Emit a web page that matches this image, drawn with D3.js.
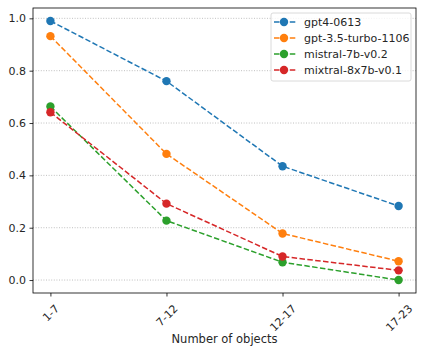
<!DOCTYPE html>
<html>
<head>
<meta charset="utf-8">
<script src="https://cdn.jsdelivr.net/npm/d3@7"></script>
<style>
  body { margin: 0; background: #fff; }
  text { font-family: "DejaVu Sans", sans-serif; fill: #262626; }
</style>
</head>
<body>
<div id="chart"></div>
<script>
// data
var categories = ["1-7", "7-12", "12-17", "17-23"];
var seriesNames = ["gpt4-0613", "gpt-3.5-turbo-1106", "mistral-7b-v0.2", "mixtral-8x7b-v0.1"];
var gpt4 = [0.99, 0.76, 0.435, 0.283];
var gpt35 = [0.932, 0.482, 0.178, 0.072];
var mistral = [0.663, 0.227, 0.068, 0.0];
var mixtral = [0.641, 0.292, 0.09, 0.037];
var yTicks = [0.0, 0.2, 0.4, 0.6, 0.8, 1.0];
var colors = ["#1f77b4", "#ff7f0e", "#2ca02c", "#d62728"];

var series = [gpt4, gpt35, mistral, mixtral].map(function(vals, i) {
  return { name: seriesNames[i], values: vals, color: colors[i] };
});

var W = 423, H = 353;
var margin = { left: 33, right: 7, top: 8, bottom: 60 };
var width = W - margin.left - margin.right;
var height = H - margin.top - margin.bottom;

var svg = d3.select("#chart").append("svg")
  .attr("width", W).attr("height", H);
var g = svg.append("g")
  .attr("transform", "translate(" + margin.left + "," + margin.top + ")");

var x = d3.scaleLinear().domain([-0.15, 3.15]).range([0, width]);
var y = d3.scaleLinear().domain([-0.0495, 1.0395]).range([height, 0]);

// grid
g.selectAll(".grid").data(yTicks).enter().append("line")
  .attr("x1", 0).attr("x2", width)
  .attr("y1", function(d) { return y(d); })
  .attr("y2", function(d) { return y(d); })
  .attr("stroke", "#b0b0b0").attr("stroke-width", 0.8)
  .attr("stroke-dasharray", "1,1.6");

// axes
var yAxis = g.append("g")
  .call(d3.axisLeft(y).tickValues(yTicks).tickFormat(d3.format(".1f")).tickSize(3.5).tickPadding(3.5));
var xAxis = g.append("g")
  .attr("transform", "translate(0," + height + ")")
  .call(d3.axisBottom(x).tickValues([0, 1, 2, 3]).tickFormat(function(d) { return categories[d]; }).tickSize(3.5));
[xAxis, yAxis].forEach(function(a) {
  a.select(".domain").remove();
  a.selectAll("line").attr("stroke", "#000").attr("stroke-width", 0.8);
  a.selectAll("text").style("font-size", "11px").attr("fill", "#262626");
});
// rotated labels, centred under the tick
xAxis.selectAll("text")
  .attr("text-anchor", "middle")
  .attr("dy", "0.35em")
  .attr("y", 0).attr("x", 0)
  .attr("transform", function() {
    var w = this.getComputedTextLength();
    var half = (w + 9) * 0.7071 / 2;
    return "translate(0," + (10.5 + half) + ") rotate(-45)";
  });

g.append("rect")
  .attr("width", width).attr("height", height)
  .attr("fill", "none").attr("stroke", "#000").attr("stroke-width", 0.8);

// x label
svg.append("text")
  .attr("x", margin.left + width / 2).attr("y", 343)
  .attr("text-anchor", "middle")
  .style("font-size", "11.5px")
  .text("Number of objects");

// lines
var line = d3.line()
  .x(function(d, i) { return x(i); })
  .y(function(d) { return y(d); });

series.forEach(function(s) {
  g.append("path")
    .datum(s.values)
    .attr("d", line)
    .attr("fill", "none")
    .attr("stroke", s.color)
    .attr("stroke-width", 1.5)
    .attr("stroke-dasharray", "5.5,2.4");
  g.selectAll(null).data(s.values).enter().append("circle")
    .attr("cx", function(d, i) { return x(i); })
    .attr("cy", function(d) { return y(d); })
    .attr("r", 4.2)
    .attr("fill", s.color);
});

// legend
var legend = svg.append("g").attr("transform", "translate(271,13)");
legend.append("rect")
  .attr("width", 140).attr("height", 68).attr("rx", 2)
  .attr("fill", "#fff").attr("fill-opacity", 0.8)
  .attr("stroke", "#d0d0d0").attr("stroke-width", 0.8);
series.forEach(function(s, i) {
  var row = legend.append("g").attr("transform", "translate(0," + (9 + i * 16) + ")");
  row.append("line")
    .attr("x1", 3).attr("x2", 25).attr("y1", 0).attr("y2", 0)
    .attr("stroke", s.color).attr("stroke-width", 1.5)
    .attr("stroke-dasharray", "5.5,2.4");
  row.append("circle").attr("cx", 13).attr("cy", 0).attr("r", 4.2).attr("fill", s.color);
  row.append("text")
    .attr("x", 33).attr("y", 0).attr("dy", "0.35em")
    .style("font-size", "11px")
    .text(s.name);
});
</script>
</body>
</html>
